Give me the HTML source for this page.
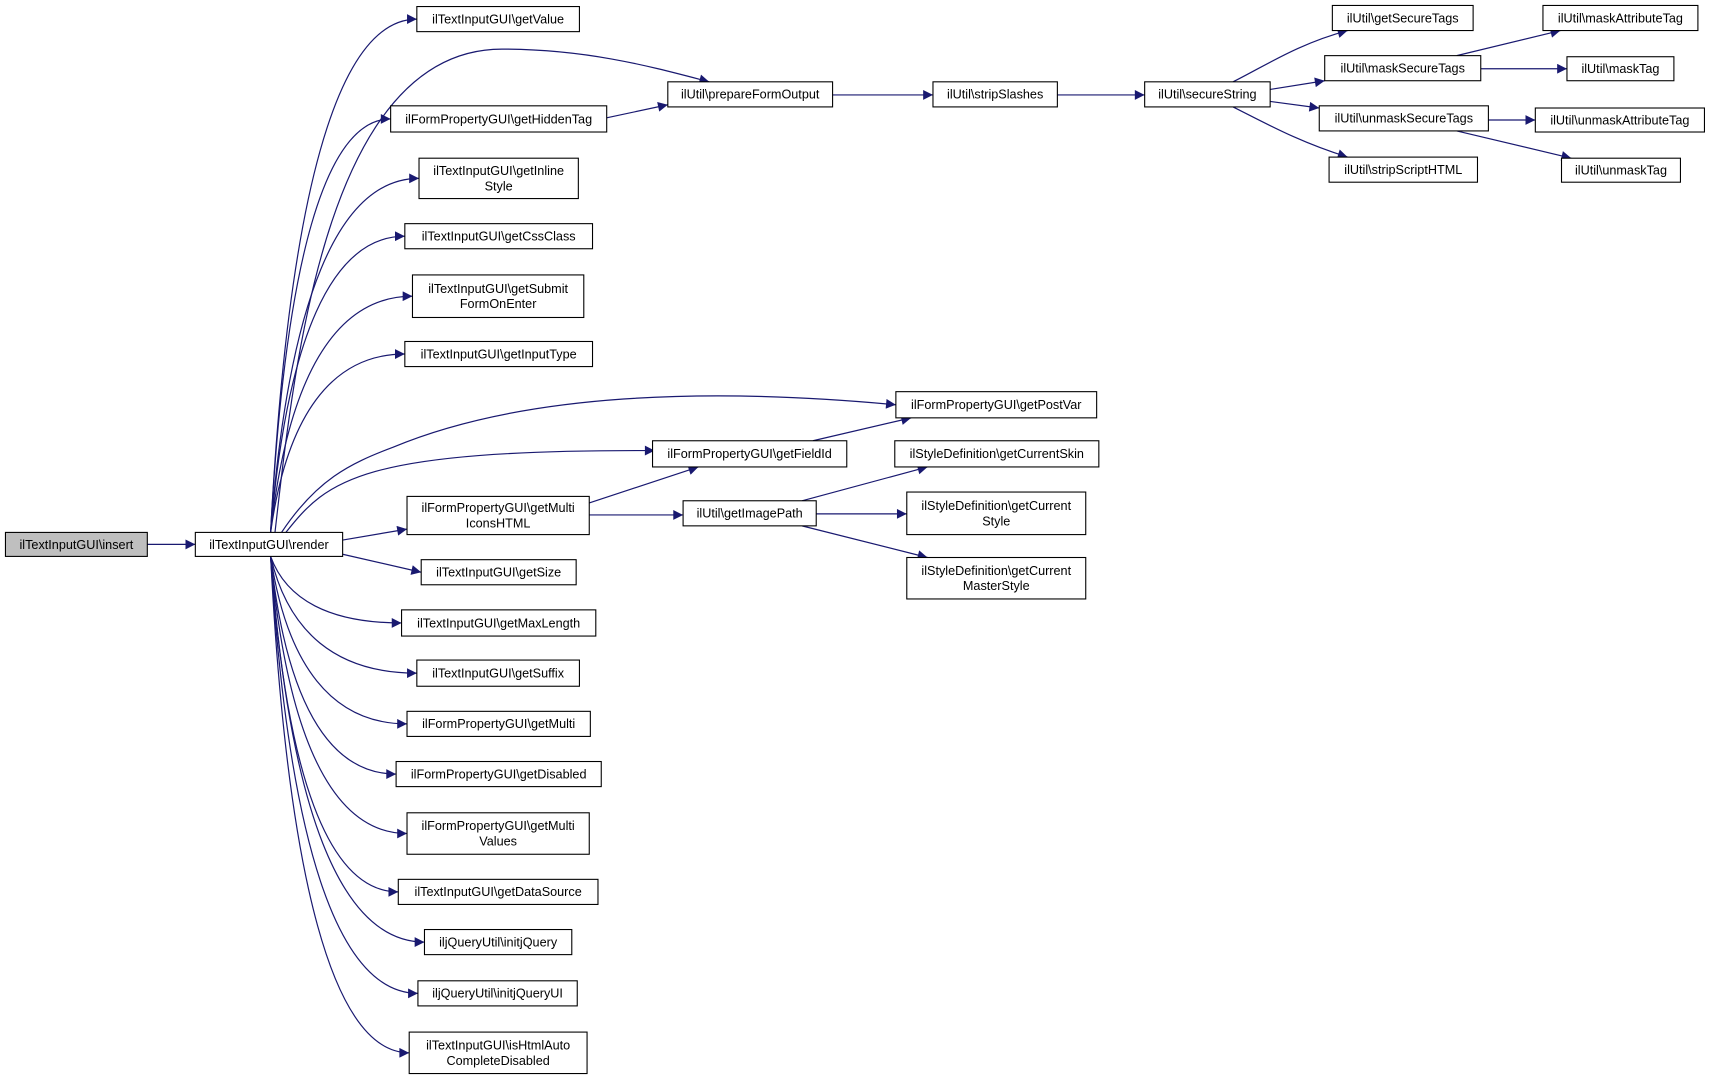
<!DOCTYPE html>
<html><head><meta charset="utf-8"><style>
html,body{margin:0;padding:0;background:#fff;width:1711px;height:1079px;overflow:hidden}
text{font-family:"Liberation Sans",Arial,sans-serif;font-size:11.6px;fill:#000;text-anchor:middle}
</style></head><body>
<svg id="s" width="1711" height="1079" viewBox="0 0 1568 989" preserveAspectRatio="none" xmlns="http://www.w3.org/2000/svg">
<defs><marker id="a" viewBox="0 0 10 10" refX="10" refY="5" markerWidth="11" markerHeight="9" markerUnits="userSpaceOnUse" orient="auto"><path d="M0,0 L10,5 L0,10 z" fill="#191970"/></marker></defs>
<g id="edges" fill="none" stroke="#191970" stroke-width="1.1"></g>
<g id="nodes"></g>
</svg>
<script>
var N={
insert:[5,488,135,510,["ilTextInputGUI\\insert"],1],
render:[179,488,314,510,["ilTextInputGUI\\render"]],
getValue:[382,6,531,29,["ilTextInputGUI\\getValue"]],
prep:[612,75,763,98,["ilUtil\\prepareFormOutput"]],
hidden:[358,97,556,121,["ilFormPropertyGUI\\getHiddenTag"]],
inline:[384,145,530,182,["ilTextInputGUI\\getInline","Style"]],
css:[371,205,543,228,["ilTextInputGUI\\getCssClass"]],
submit:[378,252,535,291,["ilTextInputGUI\\getSubmit","FormOnEnter"]],
itype:[371,313,543,336,["ilTextInputGUI\\getInputType"]],
postvar:[821,359,1005,383,["ilFormPropertyGUI\\getPostVar"]],
fieldid:[598,404,776,428,["ilFormPropertyGUI\\getFieldId"]],
micons:[373,455,540,490,["ilFormPropertyGUI\\getMulti","IconsHTML"]],
size:[386,513,528,536,["ilTextInputGUI\\getSize"]],
maxlen:[368,559,546,583,["ilTextInputGUI\\getMaxLength"]],
suffix:[382,605,531,629,["ilTextInputGUI\\getSuffix"]],
multi:[373,652,541,675,["ilFormPropertyGUI\\getMulti"]],
disabled:[363,698,551,721,["ilFormPropertyGUI\\getDisabled"]],
mvalues:[373,745,540,783,["ilFormPropertyGUI\\getMulti","Values"]],
dsource:[365,806,548,829,["ilTextInputGUI\\getDataSource"]],
jq:[389,852,524,875,["iljQueryUtil\\initjQuery"]],
jqui:[383,899,529,922,["iljQueryUtil\\initjQueryUI"]],
auto:[375,946,538,984,["ilTextInputGUI\\isHtmlAuto","CompleteDisabled"]],
strip:[855,75,969,98,["ilUtil\\stripSlashes"]],
secure:[1049,75,1164,98,["ilUtil\\secureString"]],
gst:[1221,5,1350,28,["ilUtil\\getSecureTags"]],
mst:[1214,51,1357,74,["ilUtil\\maskSecureTags"]],
ust:[1209,97,1364,120,["ilUtil\\unmaskSecureTags"]],
ssh:[1218,144,1354,167,["ilUtil\\stripScriptHTML"]],
mat:[1414,5,1556,28,["ilUtil\\maskAttributeTag"]],
mt:[1436,52,1534,74,["ilUtil\\maskTag"]],
uat:[1407,99,1562,121,["ilUtil\\unmaskAttributeTag"]],
ut:[1431,145,1540,167,["ilUtil\\unmaskTag"]],
img:[626,459,748,482,["ilUtil\\getImagePath"]],
skin:[820,404,1007,428,["ilStyleDefinition\\getCurrentSkin"]],
style:[831,451,995,490,["ilStyleDefinition\\getCurrent","Style"]],
master:[831,511,995,549,["ilStyleDefinition\\getCurrent","MasterStyle"]]
};
var ns="http://www.w3.org/2000/svg",G=document.getElementById("nodes"),E=document.getElementById("edges");
function el(t,a,p){var e=document.createElementNS(ns,t);for(var k in a)e.setAttribute(k,a[k]);p.appendChild(e);return e}
for(var k in N){var n=N[k];el("rect",{x:n[0],y:n[1],width:n[2]-n[0],height:n[3]-n[1],fill:n[5]?"#bfbfbf":"#fff",stroke:"#000","stroke-width":1},G);
var cx=(n[0]+n[2])/2,cy=(n[1]+n[3])/2,L=n[4];
for(var i=0;i<L.length;i++){var t=el("text",{x:cx,y:cy+4+(i-(L.length-1)/2)*14},G);t.textContent=L[i];}}
function p(d){el("path",{d:d,"marker-end":"url(#a)"},E)}
function line(a,b,sx,sy,tx,ty){p("M"+sx+","+sy+" L"+tx+","+ty)}
function mid(k){var n=N[k];return (n[1]+n[3])/2}
p("M135,499 L179,499");
// render fan
var r=["getValue","inline","css","submit","itype","size","maxlen","suffix","multi","disabled","mvalues","dsource","jq","jqui","auto","hidden"];
r.forEach(function(k){var n=N[k],tx=n[0],ty=mid(k),sx=248,sy=ty<499?488:510;
if(k=="size"){p("M314,508 L"+tx+","+ty);return;}
p("M"+sx+","+sy+" C"+(sx+(tx-sx)*0.12)+","+(sy+(ty-sy)*0.65)+" "+(sx+(tx-sx)*0.45)+","+ty+" "+tx+","+ty);});
p("M314,495 L373,485");
p("M252,488 C270,330 300,45 460,45 C540,45 600,62 650,75");
p("M262,488 C300,440 330,412 600,413");
p("M258,488 C290,440 320,425 360,410 C480,360 650,355 821,371");
p("M556,108 L612,96");
p("M763,87 L855,87");p("M969,87 L1049,87");
p("M1130,75 C1160,60 1190,40 1235,28");p("M1164,82 L1214,74");p("M1164,93 L1209,99");p("M1130,98 C1160,113 1190,130 1235,144");
p("M1335,51 L1430,28");p("M1357,63 L1436,63");p("M1364,110 L1407,110");p("M1335,120 L1440,145");
p("M745,404 L835,383");
p("M540,461 L640,428");p("M540,472 L626,472");
p("M735,459 L850,428");p("M748,471 L831,471");p("M735,482 L850,511");
</script>
</body></html>
